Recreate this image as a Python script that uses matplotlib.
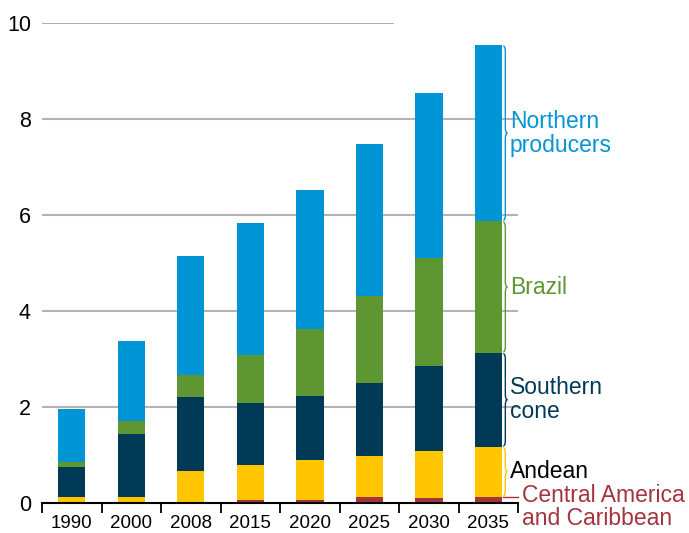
import numpy as np
import matplotlib
matplotlib.use("Agg")
import matplotlib.pyplot as plt
from matplotlib.path import Path
from matplotlib.patches import PathPatch

plt.rcParams['font.family'] = ['Liberation Sans', 'DejaVu Sans']

# data
years = ["1990", "2000", "2008", "2015", "2020", "2025", "2030", "2035"]
central = [0.00, 0.00, 0.03, 0.07, 0.07, 0.13, 0.10, 0.13]
andean = [0.13, 0.13, 0.64, 0.72, 0.83, 0.85, 0.98, 1.04]
southern = [0.62, 1.31, 1.54, 1.29, 1.33, 1.52, 1.77, 1.96]
brazil = [0.11, 0.27, 0.46, 1.00, 1.39, 1.82, 2.26, 2.74]
northern = [1.10, 1.66, 2.47, 2.76, 2.90, 3.16, 3.43, 3.67]

series = [central, andean, southern, brazil, northern]
colors = ["#A4343E", "#FFC600", "#003A56", "#5E9732", "#0096D6"]
label_names = ["Central America\nand Caribbean", "Andean", "Southern\ncone", "Brazil", "Northern\nproducers"]
label_colors = ["#A4343E", "#000000", "#003A56", "#5E9732", "#0096D6"]


def brace(ax, x, y0, y1, w, q, color):
    ym = (y0 + y1) / 2
    xm = x + w / 2
    verts = [(x, y1), (xm, y1), (xm, y1 - q),
             (xm, ym + q),
             (xm, ym), (x + w, ym),
             (xm, ym), (xm, ym - q),
             (xm, y0 + q),
             (xm, y0), (x, y0)]
    codes = [Path.MOVETO, Path.CURVE3, Path.CURVE3,
             Path.LINETO,
             Path.CURVE3, Path.CURVE3,
             Path.CURVE3, Path.CURVE3,
             Path.LINETO,
             Path.CURVE3, Path.CURVE3]
    ax.add_patch(PathPatch(Path(verts, codes), fc="none", ec=color, lw=1.0, clip_on=False))


fig = plt.figure(figsize=(6.89, 5.33), dpi=100)
ax = fig.add_axes([0.061, 0.0563, 0.691, 0.9005])

x = np.arange(len(years))
bottom = np.zeros(len(years))
for vals, c in zip(series, colors):
    ax.bar(x, vals, 0.46, bottom=bottom, color=c, zorder=3)
    bottom += np.array(vals)

ax.set_xlim(-0.5, len(years) - 0.5)
ax.set_ylim(0, 10)

# gridlines
for yv in [2, 4, 6, 8]:
    ax.axhline(yv, color="#B4B4B4", lw=1.5, zorder=1)
ax.axhline(10, xmax=0.737, color="#A0A0A0", lw=1.2, zorder=1)

for s in ["top", "right", "left"]:
    ax.spines[s].set_visible(False)
ax.spines["bottom"].set_linewidth(1.5)
ax.spines["bottom"].set_zorder(4)

ax.set_yticks([0, 2, 4, 6, 8, 10])
ax.tick_params(axis="y", length=0, pad=8, labelsize=15.5)
ax.set_xticks(x)
ax.set_xticklabels(years)
ax.set_xticks(np.arange(-0.5, len(years)), minor=True)
ax.tick_params(axis="x", which="major", length=0, pad=9, labelsize=13.5)
ax.tick_params(axis="x", which="minor", length=7.5, width=1.3, direction="out")

# braces and labels beside the last bar
last = len(years) - 1
cum = np.cumsum([s[last] for s in series])
starts = np.concatenate([[0], cum[:-1]])
bx = last + 0.25
for i in range(1, len(series)):
    y0, y1 = starts[i], cum[i]
    brace(ax, bx, y0 + 0.02, y1 - 0.02, 0.07, 0.12, colors[i])
    ax.text(bx + 0.11, (y0 + y1) / 2, label_names[i], color=label_colors[i],
            fontsize=16.5, va="center", ha="left", linespacing=1.05, clip_on=False)

# central america leader
yc = cum[0]
ax.plot([bx, bx + 0.25], [yc, yc], color=colors[0], lw=1.0, clip_on=False)
ax.text(bx + 0.31, yc - 0.22, label_names[0], color=label_colors[0],
        fontsize=16.5, va="center", ha="left", linespacing=1.0, clip_on=False)

fig.savefig("out.png", dpi=100)
